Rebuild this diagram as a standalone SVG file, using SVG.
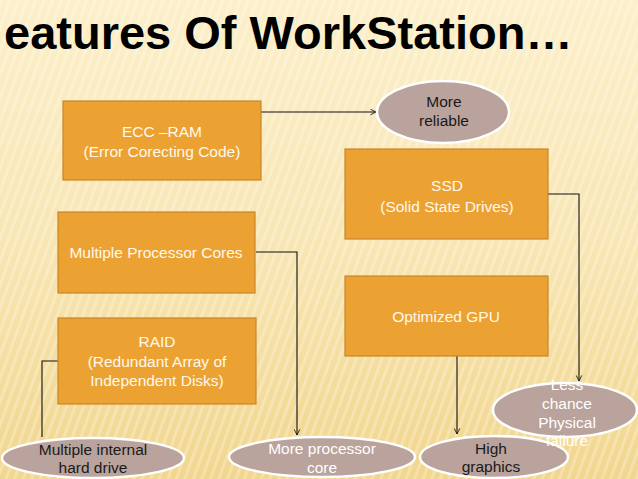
<svg xmlns="http://www.w3.org/2000/svg" width="638" height="479" viewBox="0 0 638 479">
<defs>
<linearGradient id="bg" x1="0" y1="0" x2="0" y2="1">
<stop offset="0" stop-color="#fcefca"/>
<stop offset="0.5" stop-color="#f8e6b4"/>
<stop offset="1" stop-color="#f1d68e"/>
</linearGradient>
<pattern id="stripes" width="8" height="8" patternUnits="userSpaceOnUse" patternTransform="rotate(20)">
<rect x="0" y="0" width="3" height="8" fill="#ffffff" opacity="0.25"/>
</pattern>
<marker id="arr" viewBox="0 0 10 10" refX="9" refY="5" markerWidth="7" markerHeight="7" orient="auto" markerUnits="userSpaceOnUse">
<path d="M1,1 L9,5 L1,9" fill="none" stroke="#111" stroke-width="1.2"/>
</marker>
<style>
.box{fill:#eca232;stroke:#c8852a;stroke-width:1.2}
.ell{fill:#b9a39c;stroke:#ffffff;stroke-width:2.5}
.bt{font-family:"Liberation Sans",Arial,sans-serif;font-size:15.5px;fill:#fff8ec;text-anchor:middle}
.dk{font-family:"Liberation Sans",Arial,sans-serif;font-size:15.5px;fill:#1a1a1a;text-anchor:middle}
.wt{font-family:"Liberation Sans",Arial,sans-serif;font-size:15.5px;fill:#ffffff;text-anchor:middle}
.ln{fill:none;stroke:#111;stroke-width:1.1}
</style>
</defs>
<rect width="638" height="479" fill="url(#bg)"/>
<rect width="638" height="479" fill="url(#stripes)"/>
<text x="4" y="49" font-family="Liberation Sans,Arial,sans-serif" font-size="47" font-weight="bold" fill="#000">eatures Of WorkStation…</text>

<g id="connectors">
<path class="ln" d="M256,112 H376" marker-end="url(#arr)"/>
<path class="ln" d="M256,252 H297 V435" marker-end="url(#arr)"/>
<path class="ln" d="M58,361 H42 V437"/>
<path class="ln" d="M548,194 H579 V381" marker-end="url(#arr)"/>
<path class="ln" d="M457,356 V434" marker-end="url(#arr)"/>
</g>

<g id="ecc">
<rect class="box" x="63" y="101" width="198" height="79"/>
<text class="bt" x="162" y="137">ECC –RAM</text>
<text class="bt" x="162" y="157">(Error Corecting Code)</text>
</g>
<g id="cores">
<rect class="box" x="58" y="212" width="197" height="81"/>
<text class="bt" x="156" y="258">Multiple Processor Cores</text>
</g>
<g id="raid">
<rect class="box" x="58" y="318" width="198" height="86"/>
<text class="bt" x="157" y="347">RAID</text>
<text class="bt" x="157" y="367">(Redundant Array of</text>
<text class="bt" x="157" y="386">Independent Disks)</text>
</g>
<g id="ssd">
<rect class="box" x="345" y="149" width="203" height="90"/>
<text class="bt" x="447" y="191">SSD</text>
<text class="bt" x="447" y="212">(Solid State Drives)</text>
</g>
<g id="gpu">
<rect class="box" x="345" y="276" width="203" height="80"/>
<text class="bt" x="446" y="322">Optimized GPU</text>
</g>

<g id="reliable">
<ellipse class="ell" cx="443" cy="112" rx="66" ry="31"/>
<text class="dk" x="444" y="107">More</text>
<text class="dk" x="444" y="126">reliable</text>
</g>
<g id="internal">
<ellipse class="ell" cx="93" cy="458" rx="91" ry="20"/>
<text class="dk" x="93" y="455">Multiple internal</text>
<text class="dk" x="93" y="473">hard drive</text>
</g>
<g id="proccore">
<ellipse class="ell" cx="322" cy="457" rx="93" ry="20"/>
<text class="wt" x="322" y="454">More processor</text>
<text class="wt" x="322" y="473">core</text>
</g>
<g id="lesschance">
<ellipse class="ell" cx="565" cy="410" rx="72" ry="27"/>
</g>
<g id="graphics">
<ellipse class="ell" cx="494" cy="457" rx="74" ry="21"/>
<text class="dk" x="491" y="454">High</text>
<text class="dk" x="491" y="472">graphics</text>
</g>
<g id="lesschance-text">
<text class="wt" x="567" y="390">Less</text>
<text class="wt" x="567" y="409">chance</text>
<text class="wt" x="567" y="428">Physical</text>
<text class="wt" x="567" y="446">failure</text>
</g>
</svg>
